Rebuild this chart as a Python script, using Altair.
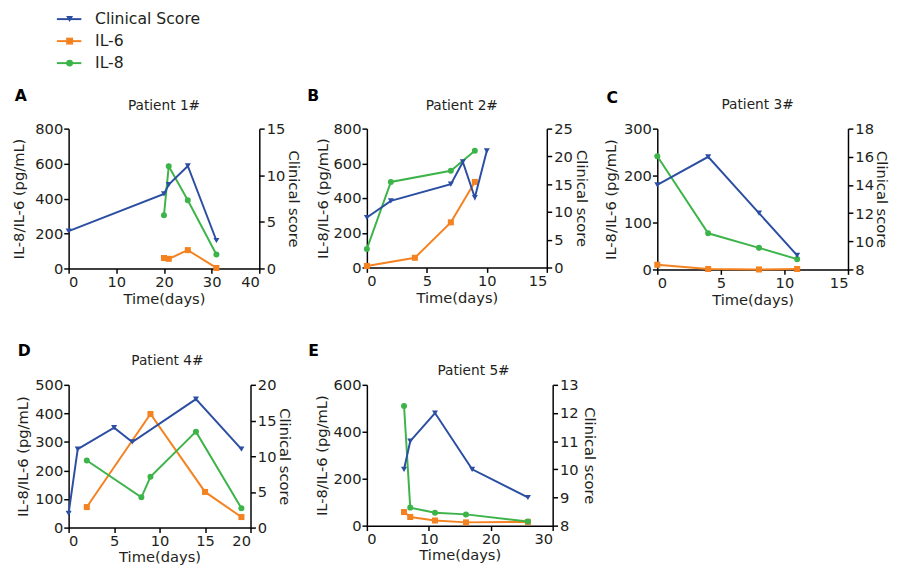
import altair as alt
import pandas as pd

SERIES = ["Clinical Score", "IL-6", "IL-8"]
COLORS = ["#2b4ea2", "#f58220", "#3db449"]
SHAPES = ["triangle-down", "square", "circle"]
FONT = "DejaVu Sans"
INK = "#231f20"

# ---------------- data ----------------
# Patient 1
p1_score_days = [0, 20, 21, 25, 31]
p1_score = [4, 8, 9, 11, 3]
p1_il6_days = [20, 21, 25, 31]
p1_il6 = [60, 55, 105, 3]
p1_il8_days = [20, 21, 25, 31]
p1_il8 = [305, 585, 390, 80]

# Patient 2
p2_score_days = [0, 2, 7, 8, 9, 10]
p2_score = [9, 12, 15, 19, 12.6, 21]
p2_il6_days = [0, 4, 7, 9]
p2_il6 = [9, 56, 260, 493]
p2_il8_days = [0, 2, 7, 9]
p2_il8 = [107, 493, 557, 672]

# Patient 3
p3_score_days = [0, 4, 8, 11]
p3_score = [14, 16, 12, 9]
p3_il6_days = [0, 4, 8, 11]
p3_il6 = [10, 1, 0, 1]
p3_il8_days = [0, 4, 8, 11]
p3_il8 = [241, 77, 46, 22]

# Patient 4
p4_score_days = [0, 1, 5, 7, 14, 19]
p4_score = [2, 11, 14, 12, 18, 11]
p4_il6_days = [2, 9, 15, 19]
p4_il6 = [72, 398, 125, 37]
p4_il8_days = [2, 8, 9, 14, 19]
p4_il8 = [235, 106, 178, 336, 68]

# Patient 5
p5_score_days = [6, 7, 11, 17, 26]
p5_score = [10, 11, 12, 10, 9]
p5_il6_days = [6, 7, 11, 16, 26]
p5_il6 = [58, 37, 22, 14, 16]
p5_il8_days = [6, 7, 11, 16, 26]
p5_il8 = [510, 77, 55, 48, 18]

color = alt.Color("series:N", scale=alt.Scale(domain=SERIES, range=COLORS), legend=None)
shape = alt.Shape("series:N", scale=alt.Scale(domain=SERIES, range=SHAPES), legend=None)


def axis(**kw):
    base = dict(grid=False, domainColor="black", domainWidth=1.5, tickColor="black",
                tickWidth=1.5, tickSize=5, labelFont=FONT, labelFontSize=15,
                labelColor=INK, titleFont=FONT, titleFontSize=15, titleColor=INK,
                titleFontWeight="normal", labelPadding=1)
    base.update(kw)
    return alt.Axis(**base)


def panel(title, letter, sd, s, d6, v6, d8, v8, xdom, xticks, ldom, lticks,
          rdom, rticks, w, h, tx, ty, lx, ly, lpad, rpad, xpad, edge):
    cyt = pd.DataFrame({"day": d6 + d8, "value": v6 + v8,
                        "series": ["IL-6"] * len(v6) + ["IL-8"] * len(v8)})
    sc = pd.DataFrame({"day": sd, "value": s, "series": ["Clinical Score"] * len(s)})
    x = alt.X("day:Q", scale=alt.Scale(domain=xdom, nice=False, zero=False),
              axis=axis(values=xticks, title="Time(days)", titlePadding=xpad))
    yl = alt.Y("value:Q", scale=alt.Scale(domain=ldom, nice=False),
               axis=axis(values=lticks, orient="left", title="IL-8/IL-6 (pg/mL)",
                         titlePadding=lpad))
    yr = alt.Y("value:Q", scale=alt.Scale(domain=rdom, nice=False, zero=False),
               axis=axis(values=rticks, orient="right", title="Clinical score",
                         titlePadding=rpad, labelPadding=2))
    left = alt.layer(
        alt.Chart(cyt).mark_line(strokeWidth=2).encode(x=x, y=yl, color=color, detail="series:N"),
        alt.Chart(cyt).mark_point(filled=True, size=38, opacity=1).encode(x=x, y=yl, color=color, shape=shape),
    )
    right = alt.layer(
        alt.Chart(sc).mark_line(strokeWidth=2).encode(x=x, y=yr, color=color),
        alt.Chart(sc).mark_point(filled=True, size=38, opacity=1).encode(x=x, y=yr, color=color, shape=shape),
    )
    lab = alt.Chart(pd.DataFrame({"t": [letter]})).mark_text(
        font=FONT, fontSize=16, fontWeight="bold", color="black", align="left",
        baseline="middle").encode(text="t:N", x=alt.value(lx), y=alt.value(ly))
    ttl = alt.Chart(pd.DataFrame({"t": [title]})).mark_text(
        font=FONT, fontSize=14, color=INK, align="center",
        baseline="middle").encode(text="t:N", x=alt.value(w / 2 + tx), y=alt.value(ty))
    # invisible anchor that fixes how far the panel reaches to the left
    anchor = alt.Chart(pd.DataFrame({"t": [0]})).mark_rule(opacity=0, strokeWidth=1).encode(
        x=alt.value(edge), y=alt.value(0), y2=alt.value(1))
    return alt.layer(left, right, lab, ttl, anchor).resolve_scale(y="independent").properties(
        width=w, height=h)


A = panel("Patient 1#", "A", p1_score_days, p1_score, p1_il6_days, p1_il6, p1_il8_days, p1_il8,
          [0, 40], [0, 10, 20, 30, 40], [0, 800], [0, 200, 400, 600, 800],
          [0, 15], [0, 5, 10, 15], 195, 143, 0, -23, -55, -33, 8, 1, 3, -61)
B = panel("Patient 2#", "B", p2_score_days, p2_score, p2_il6_days, p2_il6, p2_il8_days, p2_il8,
          [0, 15], [0, 5, 10, 15], [0, 800], [0, 200, 400, 600, 800],
          [0, 25], [0, 5, 10, 15, 20, 25], 184, 142, 5, -23, -61, -33, 3, 1, 3, -50)
C = panel("Patient 3#", "C", p3_score_days, p3_score, p3_il6_days, p3_il6, p3_il8_days, p3_il8,
          [0, 15], [0, 5, 10, 15], [0, 300], [0, 100, 200, 300],
          [8, 18], [8, 10, 12, 14, 16, 18], 195, 144, 5, -24, -52, -31, 5, 0, 3, -64)
D = panel("Patient 4#", "D", p4_score_days, p4_score, p4_il6_days, p4_il6, p4_il8_days, p4_il8,
          [0, 20], [0, 5, 10, 15, 20], [0, 500], [0, 100, 200, 300, 400, 500],
          [0, 20], [0, 5, 10, 15, 20], 186, 146, 8, -24, -52, -34, 4, 1, 2, -61)
E = panel("Patient 5#", "E", p5_score_days, p5_score, p5_il6_days, p5_il6, p5_il8_days, p5_il8,
          [0, 30], [0, 10, 20, 30], [0, 600], [0, 200, 400, 600],
          [8, 13], [8, 9, 10, 11, 12, 13], 190, 144, 14, -14, -60, -34, 4, 3, 2, -50)

# legend
leg = pd.DataFrame({"series": SERIES})
yleg = alt.Y("series:N", sort=SERIES,
             scale=alt.Scale(type="point", domain=SERIES, range=[7, 52], padding=0), axis=None)
legend = alt.layer(
    alt.Chart(leg).mark_rule(strokeWidth=2).encode(y=yleg, x=alt.value(-12), x2=alt.value(13), color=color),
    alt.Chart(leg).mark_point(filled=True, size=50, opacity=1).encode(y=yleg, x=alt.value(1), color=color, shape=shape),
    alt.Chart(leg).mark_text(align="left", baseline="middle", font=FONT, fontSize=16, color=INK).encode(
        y=yleg, x=alt.value(27), text="series:N"),
).properties(width=200, height=55)

row1 = alt.hconcat(A, B, C, spacing=6)
row2 = alt.hconcat(D, E, spacing=16)
chart = alt.vconcat(legend, alt.vconcat(row1, row2, spacing=37), spacing=18).properties(
    padding={"left": 1, "top": -3, "right": 3, "bottom": 0}
).configure_view(stroke=None)

chart.save("out.html", embed_options={"renderer": "svg", "actions": False})
